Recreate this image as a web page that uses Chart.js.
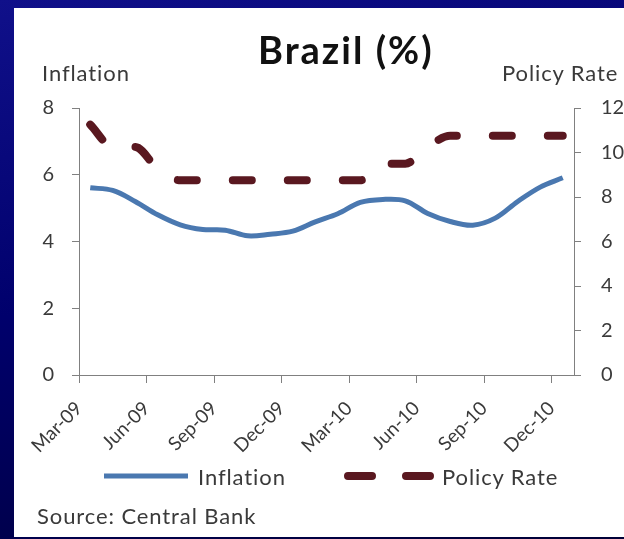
<!DOCTYPE html>
<html><head><meta charset="utf-8">
<script src="https://cdn.jsdelivr.net/npm/chart.js@4.4.1/dist/chart.umd.min.js"></script>
<style>
html,body{margin:0;padding:0;width:624px;height:539px;overflow:hidden;}
body{background:linear-gradient(165deg,#10108a 0%,#00006c 45%,#000036 100%);position:relative;font-family:Lato,'Open Sans',sans-serif;}
#panel{position:absolute;left:14px;top:8px;width:620px;height:529px;background:#fff;}
#wrap{position:absolute;left:0;top:0;width:624px;height:539px;}
.t{position:absolute;white-space:nowrap;color:#3a3a3a;font-size:22px;line-height:22px;letter-spacing:0.9px;}
#title{font-weight:bold;font-size:38px;line-height:38px;color:#111;left:258px;top:30px;letter-spacing:2px;}
svg{position:absolute;left:0;top:0;}
</style></head><body>
<div id="panel"></div>
<div id="wrap"><canvas id="c" width="624" height="539"></canvas></div>
<div class="t" id="title">Brazil (%)</div>
<div class="t" id="ylab" style="left:42px;top:62px;">Inflation</div>
<div class="t" id="y1lab" style="left:502px;top:62px;">Policy Rate</div>
<svg id="leg" width="624" height="539"></svg>
<div class="t" id="leg1" style="left:198px;top:466px;">Inflation</div>
<div class="t" id="leg2" style="left:442px;top:466px;">Policy Rate</div>
<div class="t" id="src" style="left:37px;top:505px;">Source: Central Bank</div>
<script>
const months = ['Mar-09','Apr-09','May-09','Jun-09','Jul-09','Aug-09','Sep-09','Oct-09','Nov-09','Dec-09',
  'Jan-10','Feb-10','Mar-10','Apr-10','May-10','Jun-10','Jul-10','Aug-10','Sep-10','Oct-10','Nov-10','Dec-10'];
const inflation = [5.61,5.53,5.20,4.80,4.50,4.36,4.34,4.17,4.22,4.31,4.59,4.83,5.17,5.26,5.22,4.84,4.60,4.49,4.70,5.20,5.63,5.91];
const policyRate = [11.25,10.25,10.25,9.25,8.75,8.75,8.75,8.75,8.75,8.75,8.75,8.75,8.75,9.5,9.5,10.25,10.75,10.75,10.75,10.75,10.75,10.75];
const inflationTicks = [0,2,4,6,8];
const policyTicks = [0,2,4,6,8,10,12];

const BLUE = '#4a78b0', MAROON = '#5a1820', AXIS = '#808080', TXT = '#3a3a3a';
const pts = arr => arr.map((v,i)=>({x:i+0.5,y:v}));

new Chart(document.getElementById('c'), {
  type:'line',
  data:{datasets:[
    {label:'Inflation',data:pts(inflation),yAxisID:'y',borderColor:BLUE,borderWidth:5,pointRadius:0,tension:0.35,fill:false},
    {label:'Policy Rate',data:pts(policyRate),yAxisID:'y1',borderColor:MAROON,borderWidth:8,borderDash:[19,36],borderCapStyle:'round',pointRadius:0,cubicInterpolationMode:'monotone',fill:false}
  ]},
  options:{
    responsive:false,animation:false,
    layout:{padding:{top:108,left:0,right:0,bottom:0}},
    plugins:{legend:{display:false},tooltip:{enabled:false}},
    scales:{
      x:{type:'linear',min:0,max:22,
        afterFit:s=>{s.height=539-375;},
        ticks:{stepSize:3,includeBounds:false,autoSkip:false,maxRotation:45,minRotation:45,padding:14,
          color:TXT,font:{family:'Lato',size:19},callback:v=>months[v]},
        grid:{drawOnChartArea:false,tickLength:8,color:AXIS,lineWidth:1},
        border:{color:AXIS,width:1}},
      y:{position:'left',min:0,max:8,
        afterFit:s=>{s.width=79;},
        afterBuildTicks:s=>{s.ticks=inflationTicks.map(v=>({value:v}));},
        ticks:{padding:18,color:TXT,font:{family:'Lato',size:20}},
        grid:{drawOnChartArea:false,tickLength:7,color:AXIS,lineWidth:1},
        border:{color:AXIS,width:1}},
      y1:{position:'right',min:0,max:12,
        afterFit:s=>{s.width=50;},
        afterBuildTicks:s=>{s.ticks=policyTicks.map(v=>({value:v}));},
        ticks:{padding:20,color:TXT,font:{family:'Lato',size:20}},
        grid:{drawOnChartArea:false,tickLength:7,color:AXIS,lineWidth:1},
        border:{color:AXIS,width:1}}
    }
  }
});

// legend keys
const svg = document.getElementById('leg');
svg.innerHTML =
  `<line x1="104" y1="476" x2="188" y2="476" stroke="${BLUE}" stroke-width="5"/>`+
  `<line x1="348" y1="476" x2="432" y2="476" stroke="${MAROON}" stroke-width="8" stroke-linecap="round" stroke-dasharray="24 34"/>`;
</script>
</body></html>
